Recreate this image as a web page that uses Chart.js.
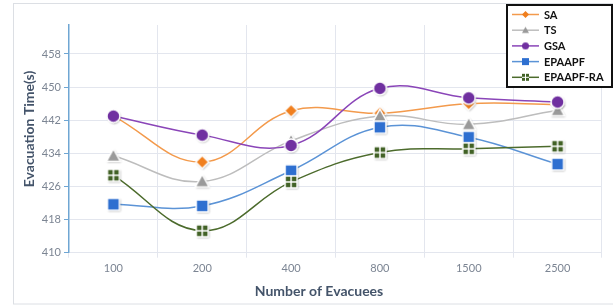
<!DOCTYPE html>
<html>
<head>
<meta charset="utf-8">
<script src="https://cdn.jsdelivr.net/npm/chart.js@4.4.0/dist/chart.umd.min.js"></script>
<style>
    html, body { margin: 0; padding: 0; background: #fff; }
    #wrap { width: 613px; height: 308px; position: relative; }
</style>
</head>
<body>
<div id="wrap"><canvas id="myChart"></canvas></div>
<script>
var categories = ['100', '200', '400', '800', '1500', '2500'];
var seriesNames = ['SA', 'TS', 'GSA', 'EPAAPF', 'EPAAPF-RA'];
var saValues = [443.0, 431.9, 444.3, 443.7, 446.0, 445.8];
var tsValues = [433.4, 427.2, 437.0, 443.0, 441.0, 444.4];
var gsaValues = [443.0, 438.4, 435.9, 449.7, 447.4, 446.4];
var epaapfValues = [421.7, 421.3, 429.8, 440.3, 437.9, 431.4];
var epaapfRaValues = [428.7, 415.3, 427.1, 434.2, 435.1, 435.7];
var yTicks = [410, 418, 426, 434, 442, 450, 458];

var FONT = 'Lato, "Open Sans", sans-serif';

// marker pictures, drawn once and handed to Chart.js as point styles
function makeMarker(shape, color, size, shadow) {
    var pad = 4;
    var c = document.createElement('canvas');
    c.width = size + pad * 2;
    c.height = size + pad * 2;
    var ctx = c.getContext('2d');
    var m = pad + size / 2, r = size / 2;
    if (shadow) {
        ctx.shadowColor = 'rgba(0,0,0,0.35)';
        ctx.shadowBlur = 2;
        ctx.shadowOffsetX = 0.8;
        ctx.shadowOffsetY = 1;
    }
    ctx.beginPath();
    if (shape === 'circle') {
        ctx.arc(m, m, r, 0, Math.PI * 2);
    } else if (shape === 'diamond') {
        ctx.moveTo(m, m - r); ctx.lineTo(m + r, m); ctx.lineTo(m, m + r); ctx.lineTo(m - r, m);
    } else if (shape === 'triangle') {
        ctx.moveTo(m, m - r); ctx.lineTo(m + r, m + r * 0.8); ctx.lineTo(m - r, m + r * 0.8);
    } else {
        ctx.rect(m - r, m - r, size, size);
    }
    ctx.closePath();
    ctx.fillStyle = color;
    ctx.fill();
    ctx.shadowColor = 'transparent';
    if (shadow) {
        ctx.lineWidth = 1.5;
        ctx.strokeStyle = '#fff';
        ctx.stroke();
    }
    if (shape === 'cross') {
        ctx.strokeStyle = '#fff';
        ctx.lineWidth = shadow ? 1.5 : 1;
        ctx.beginPath();
        ctx.moveTo(m, m - r); ctx.lineTo(m, m + r);
        ctx.moveTo(m - r, m); ctx.lineTo(m + r, m);
        ctx.stroke();
    }
    return c;
}

var styles = [
    { line: '#f39a4c', fill: '#f07f1e', shape: 'diamond', size: 13 },
    { line: '#bdbdbd', fill: '#9a9a9a', shape: 'triangle', size: 14 },
    { line: '#8a45b8', fill: '#7030a0', shape: 'circle', size: 13 },
    { line: '#5b93d6', fill: '#2e6fd0', shape: 'square', size: 12 },
    { line: '#4c6b2c', fill: '#426226', shape: 'cross', size: 12 }
];
var allValues = [saValues, tsValues, gsaValues, epaapfValues, epaapfRaValues];

var datasets = [];
for (var i = 0; i < seriesNames.length; i++) {
    var st = styles[i];
    datasets.push({
        label: seriesNames[i],
        data: allValues[i],
        borderColor: st.line,
        backgroundColor: st.fill,
        borderWidth: 1.5,
        tension: 0.4,
        pointStyle: makeMarker(st.shape, st.fill, st.size, true),
        pointRadius: 7,
        order: seriesNames.length - i
    });
}

var framePlugin = {
    id: 'frame',
    beforeDraw: function (chart) {
        var ctx = chart.ctx;
        ctx.save();
        ctx.fillStyle = '#fff';
        ctx.fillRect(0, 0, chart.width, chart.height);
        ctx.strokeStyle = '#dcdfe4';
        ctx.lineWidth = 1;
        ctx.strokeRect(13.5, 3.5, 620, 300.5);
        ctx.restore();
    },
    afterDraw: function (chart) {
        var ctx = chart.ctx;
        ctx.save();
        // axis titles
        ctx.fillStyle = '#44546a';
        ctx.font = 'bold 14px ' + FONT;
        ctx.textAlign = 'center';
        ctx.textBaseline = 'middle';
        ctx.fillText('Number of Evacuees', 319, 291);
        ctx.translate(29, 129);
        ctx.rotate(-Math.PI / 2);
        ctx.fillText('Evacuation Time(s)', 0, 0);
        ctx.restore();

        // legend box
        ctx.save();
        ctx.fillStyle = '#fff';
        ctx.fillRect(506, 5, 106, 82);
        ctx.strokeStyle = '#111';
        ctx.lineWidth = 2;
        ctx.strokeRect(507, 5, 105, 82);
        ctx.font = 'bold 11px ' + FONT;
        ctx.textAlign = 'left';
        ctx.textBaseline = 'middle';
        for (var k = 0; k < seriesNames.length; k++) {
            var y = 14.5 + k * 15.7;
            ctx.strokeStyle = styles[k].line;
            ctx.lineWidth = 1.5;
            ctx.beginPath();
            ctx.moveTo(512, y);
            ctx.lineTo(539, y);
            ctx.stroke();
            var mk = makeMarker(styles[k].shape, styles[k].fill, 7, false);
            ctx.drawImage(mk, 525.5 - mk.width / 2, y - mk.height / 2);
            ctx.fillStyle = '#111';
            ctx.fillText(seriesNames[k], 544, y + 0.5);
        }
        ctx.restore();
    }
};

var ctx = document.getElementById('myChart').getContext('2d');
var myChart = new Chart(ctx, {
    type: 'line',
    data: { labels: categories, datasets: datasets },
    options: {
        responsive: true,
        maintainAspectRatio: false,
        animation: false,
        layout: { padding: { top: 25, right: 11, bottom: 0, left: 0 } },
        plugins: {
            legend: { display: false },
            tooltip: { enabled: false }
        },
        scales: {
            x: {
                offset: true,
                afterFit: function (scale) { scale.height = 55.3; },
                grid: {
                    offset: true,
                    color: '#e3e6ee',
                    tickLength: 5,
                    drawTicks: true
                },
                border: { display: false },
                ticks: {
                    color: '#7c8593',
                    font: { family: FONT, size: 11 },
                    padding: 4
                }
            },
            y: {
                min: 410,
                max: 465,
                afterFit: function (scale) { scale.width = 69; },
                afterBuildTicks: function (scale) {
                    scale.ticks = yTicks.map(function (v) { return { value: v }; });
                },
                grid: {
                    color: '#e3e6ee',
                    tickColor: '#6fa6d3',
                    tickLength: 5
                },
                border: { display: true, color: '#6fa6d3', width: 1.5 },
                ticks: {
                    color: '#7c8593',
                    font: { family: FONT, size: 11 },
                    padding: 3
                }
            }
        }
    },
    plugins: [framePlugin]
});
</script>
</body>
</html>
